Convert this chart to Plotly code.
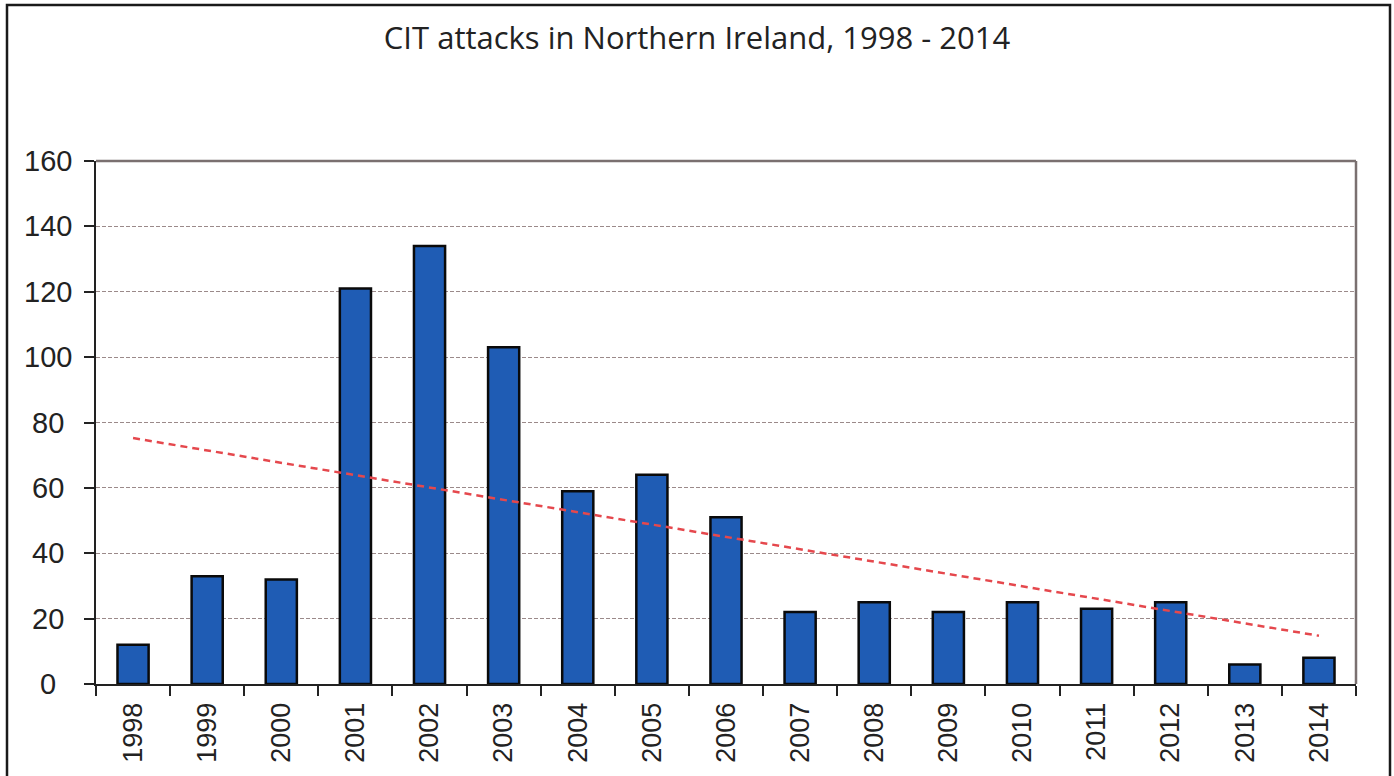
import numpy as np
import plotly.graph_objects as go

# Cash-in-transit attacks per year
years = ["1998", "1999", "2000", "2001", "2002", "2003", "2004", "2005", "2006",
         "2007", "2008", "2009", "2010", "2011", "2012", "2013", "2014"]
attacks = [12, 33, 32, 121, 134, 103, 59, 64, 51, 22, 25, 22, 25, 23, 25, 6, 8]
y_ticks = [0, 20, 40, 60, 80, 100, 120, 140, 160]

# Linear trend through the yearly counts
idx = np.arange(len(years))
slope, intercept = np.polyfit(idx, attacks, 1)
trend = slope * idx + intercept

W, H = 1394, 776
L, R, T, B = 96, 38, 161, 92
pw, ph = W - L - R, H - T - B

def px_x(px):
    return (px - L) / pw

def px_y(py):
    return (H - B - py) / ph

label_family = "Liberation Sans, Arial, sans-serif"
text_color = "#222222"

fig = go.Figure()
fig.add_trace(go.Bar(
    x=years, y=attacks, width=0.42,
    marker=dict(color="#1f5cb4", line=dict(color="#0a0a0a", width=2.5)),
    showlegend=False, hoverinfo="x+y",
))
fig.add_trace(go.Scatter(
    x=years, y=trend, mode="lines",
    line=dict(color="#e5484d", width=2.5, dash="7px,5px"),
    showlegend=False, hoverinfo="skip",
))

# y tick labels, centred in the left gutter
annotations = [
    dict(x=px_x(48), xref="paper", y=v, yref="y", text=str(v), showarrow=False,
         xanchor="center", yanchor="middle",
         font=dict(family=label_family, size=29, color=text_color))
    for v in y_ticks
]

fig.update_layout(
    width=W, height=H,
    margin=dict(l=L, r=R, t=T, b=B, pad=0),
    paper_bgcolor="white", plot_bgcolor="white",
    title=dict(text="CIT attacks in Northern Ireland, 1998 - 2014",
               x=0.5, xanchor="center", y=1 - 38 / H, yanchor="middle",
               font=dict(family="Open Sans, sans-serif", size=31, color=text_color)),
    xaxis=dict(
        type="category", tickson="boundaries", ticks="outside", ticklen=10,
        tickwidth=2, tickcolor=text_color, showline=True, linecolor=text_color,
        linewidth=2, showgrid=False, tickangle=-90,
        tickfont=dict(family=label_family, size=27, color=text_color),
        ticklabelstandoff=6, range=[-0.5, len(years) - 0.5],
    ),
    yaxis=dict(
        range=[0, 160], tickvals=y_ticks, ticks="outside", ticklen=10,
        tickwidth=2, tickcolor=text_color, showline=True, linecolor=text_color,
        linewidth=2, showgrid=True, gridcolor="#9b8a8a", griddash="4px,2px",
        gridwidth=1, zeroline=False, showticklabels=False,
    ),
    annotations=annotations,
    shapes=[
        # top and right edges of the plot area
        dict(type="line", xref="paper", yref="paper", x0=0, x1=1, y0=1, y1=1,
             line=dict(color="#7a7070", width=2.5)),
        dict(type="line", xref="paper", yref="paper", x0=1, x1=1, y0=0, y1=1,
             line=dict(color="#7a7070", width=2.5)),
        # outer frame
        dict(type="rect", xref="paper", yref="paper",
             x0=px_x(7), x1=px_x(1390), y0=px_y(779), y1=px_y(5),
             line=dict(color="#1a1a1a", width=2.5), layer="below"),
    ],
)

fig.write_html("out.html")
